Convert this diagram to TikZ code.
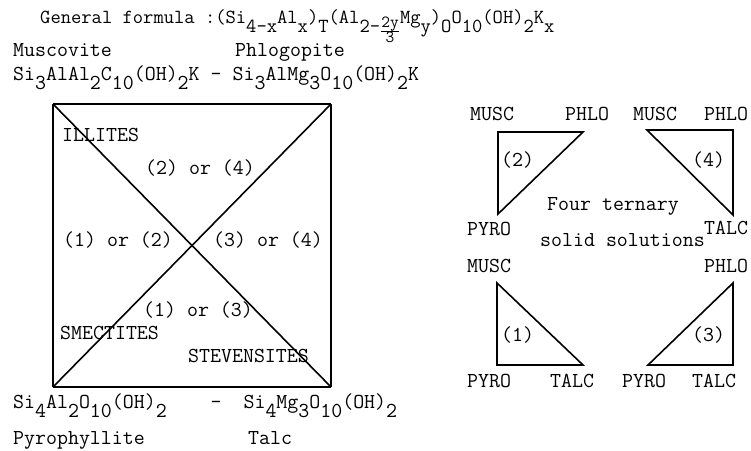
\documentclass[tikz,border=0pt]{standalone}
\usepackage{fontspec}
\newcommand{\lowr}[1]{\raisebox{-9pt}{#1}}
\newcommand{\frc}{\raisebox{-4pt}{\fontsize{17}{17}\selectfont$\frac{\mbox{2y}}{\mbox{3}}$}}
\begin{document}
\begin{tikzpicture}[x=1pt,y=-1pt,
    txt/.style={anchor=west,inner sep=0pt,font=\fontsize{21.3}{24}\ttfamily},
    frm/.style={anchor=base west,inner sep=0pt,font=\fontsize{21.3}{24}\ttfamily},
    edge/.style={line width=1.6pt},
    heavy/.style={line width=2.6pt}]
    \useasboundingbox (0,0) rectangle (751,450);
    % header
    \node[frm,font=\fontsize{20}{24}\ttfamily] (gen) at (40,23)
        {General formula :(Si\lowr{4-x}Al\lowr{x})\lowr{T}(Al\lowr{2-\frc}Mg\lowr{y})\lowr{O}O\lowr{10}(OH)\lowr{2}K\lowr{x}};
    \node[frm] (musn) at (13,56) {Muscovite};
    \node[frm] (phln) at (235,56) {Phlogopite};
    \node[frm] (topf) at (13,80)
        {Si\lowr{3}AlAl\lowr{2}C\lowr{10}(OH)\lowr{2}K\ -\ Si\lowr{3}AlMg\lowr{3}O\lowr{10}(OH)\lowr{2}K};
    \node[frm] (botf) at (13,408)
        {Si\lowr{4}Al\lowr{2}O\lowr{10}(OH)\lowr{2}\ \ \ \ -\ \ Si\lowr{4}Mg\lowr{3}O\lowr{10}(OH)\lowr{2}};
    \node[frm] (pyrn) at (13,444) {Pyrophyllite};
    \node[frm] (talcn) at (248,444) {Talc};
    % square
    \coordinate (mu) at (53,104);
    \coordinate (ph) at (331,104);
    \coordinate (py) at (53,387);
    \coordinate (ta) at (331,387);
    \draw[heavy] (mu) -- (ph);
    \draw[heavy] (py) -- (ta);
    \draw[edge] (mu) -- (py);
    \draw[edge] (ph) -- (ta);
    \draw[edge] (mu) -- (ta);
    \draw[edge] (ph) -- (py);
    \node[txt] (ill) at (62,135) {ILLITES};
    \node[txt] (o24) at (145,168) {(2) or (4)};
    \node[txt] (o12) at (63,240) {(1) or (2)};
    \node[txt] (o34) at (213,240) {(3) or (4)};
    \node[txt] (o13) at (143,310) {(1) or (3)};
    \node[txt] (sme) at (60,333) {SMECTITES};
    \node[txt] (ste) at (188,356) {STEVENSITES};
    % the four triangles
    \coordinate (m2) at (498,132);
    \coordinate (p2) at (583,132);
    \coordinate (y2) at (498,214);
    \draw[edge] (m2) -- (p2) -- (y2) -- cycle;
    \coordinate (m4) at (647,130);
    \coordinate (p4) at (733,130);
    \coordinate (t4) at (733,215);
    \draw[edge] (m4) -- (p4) -- (t4) -- cycle;
    \coordinate (m1) at (497,283);
    \coordinate (y1) at (497,365);
    \coordinate (t1) at (583,365);
    \draw[edge] (m1) -- (y1) -- (t1) -- cycle;
    \coordinate (p3) at (733,283);
    \coordinate (y3) at (648,365);
    \coordinate (t3) at (733,365);
    \draw[edge] (p3) -- (y3) -- (t3) -- cycle;
    \node[txt] (mus2) at (470,114) {MUSC};
    \node[txt] (phl2) at (565,114) {PHLO};
    \node[txt] (mus4) at (633,114) {MUSC};
    \node[txt] (phl4) at (704,114) {PHLO};
    \node[txt] (n2) at (501,160) {(2)};
    \node[txt] (n4) at (692,160) {(4)};
    \node[txt] (pyr2) at (467,229) {PYRO};
    \node[txt] (tal4) at (704,228) {TALC};
    \node[txt] (four) at (547,206) {Four ternary};
    \node[txt] (solid) at (540,240) {solid solutions};
    \node[txt] (mus1) at (467,266) {MUSC};
    \node[txt] (phl3) at (704,266) {PHLO};
    \node[txt] (n1) at (501,335) {(1)};
    \node[txt] (n3) at (692,335) {(3)};
    \node[txt] (pyr1) at (467,381) {PYRO};
    \node[txt] (tal1) at (550,381) {TALC};
    \node[txt] (pyr3) at (622,381) {PYRO};
    \node[txt] (tal3) at (692,381) {TALC};
\end{tikzpicture}
\end{document}
